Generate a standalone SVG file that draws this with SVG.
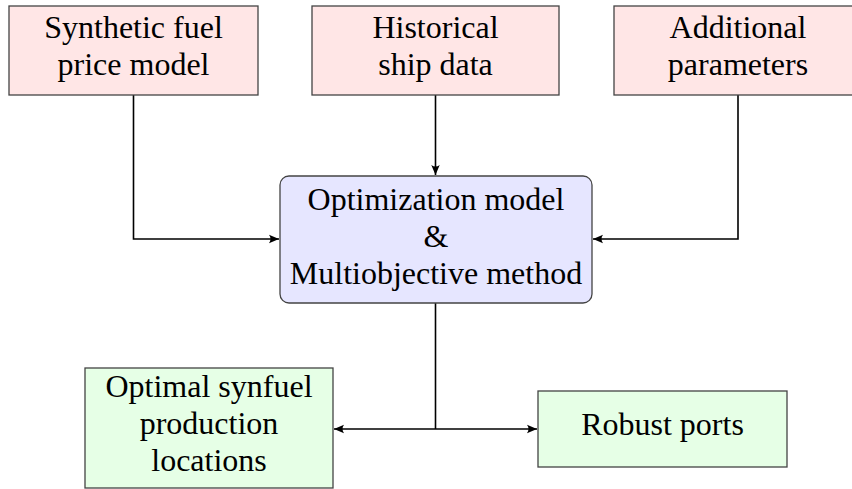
<svg xmlns="http://www.w3.org/2000/svg" width="852" height="489" viewBox="0 0 852 489">
<style>
.box{stroke:#444;stroke-width:1.3}
.in{fill:#ffe6e6}
.mid{fill:#e6e6ff}
.out{fill:#e6ffe6}
.t{font-family:'Liberation Serif','Times New Roman',serif;font-size:32px;fill:#000;text-anchor:middle}
.conn{fill:none;stroke:#000;stroke-width:1.6}
</style>
<defs>
<marker id="arr" viewBox="-11 -5 12 10" refX="0" refY="0" markerWidth="12" markerHeight="10" markerUnits="userSpaceOnUse" orient="auto-start-reverse">
<path d="M0 0 L-10 -4.2 Q-7 0 -10 4.2 Z" fill="#000"/>
</marker>
</defs>
<rect width="852" height="489" fill="#fff"/>
<g id="connectors">
<path class="conn" d="M133.5 95 V239 H279" marker-end="url(#arr)"/>
<path class="conn" d="M435.5 95 V175" marker-end="url(#arr)"/>
<path class="conn" d="M738 95 V239 H593" marker-end="url(#arr)"/>
<path class="conn" d="M435.5 303 V429"/>
<path class="conn" d="M334 429 H537" marker-start="url(#arr)" marker-end="url(#arr)"/>
</g>
<g id="synfuel-price">
<rect class="box in" x="9" y="6" width="249" height="89"/>
<text class="t" x="133.5" y="38">Synthetic fuel</text>
<text class="t" x="133.5" y="75">price model</text>
</g>
<g id="ship-data">
<rect class="box in" x="312" y="6" width="247" height="89"/>
<text class="t" x="435.5" y="38">Historical</text>
<text class="t" x="435.5" y="75">ship data</text>
</g>
<g id="additional">
<rect class="box in" x="614" y="6" width="249" height="89"/>
<text class="t" x="738" y="38">Additional</text>
<text class="t" x="738" y="75">parameters</text>
</g>
<g id="optimization">
<rect class="box mid" x="280" y="176" width="312" height="127" rx="9" ry="9"/>
<text class="t" x="436" y="210">Optimization model</text>
<text class="t" x="436" y="247">&amp;</text>
<text class="t" x="436" y="284">Multiobjective method</text>
</g>
<g id="optimal-locations">
<rect class="box out" x="85" y="368" width="248" height="120"/>
<text class="t" x="209" y="397">Optimal synfuel</text>
<text class="t" x="209" y="434">production</text>
<text class="t" x="209" y="471">locations</text>
</g>
<g id="robust-ports">
<rect class="box out" x="538" y="391" width="249" height="76"/>
<text class="t" x="662.5" y="435">Robust ports</text>
</g>
</svg>
